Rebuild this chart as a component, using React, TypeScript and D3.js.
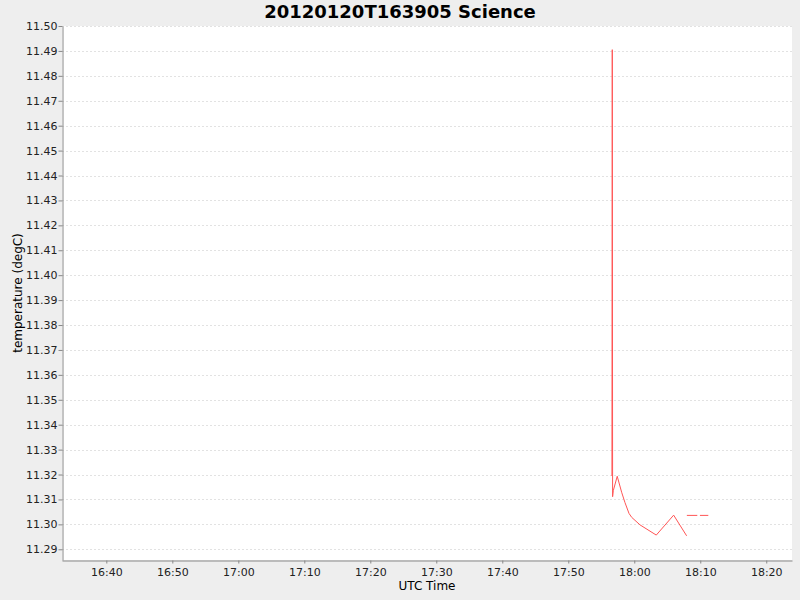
import { useEffect, useRef } from 'react'
import * as d3 from 'd3'

// Sample times (UTC, 2012-01-20) and temperatures; null marks a gap in the record
const times = [
  '17:56:37', '17:56:40', '17:56:43', '17:56:49', '17:57:25', '17:58:05', '17:58:35',
  '17:59:12', '17:59:37', '18:00:52', '18:03:20', '18:05:58', '18:07:56', '18:07:57',
  '18:07:58', '18:09:33', '18:09:45', '18:09:57', '18:11:13',
]
const temps: (number | null)[] = [
  11.3194, 11.4905, 11.3111, 11.3135, 11.3193, 11.3129, 11.3088,
  11.3044, 11.3028, 11.2998, 11.2957, 11.3037, 11.2954, null,
  11.3036, 11.3036, null, 11.3036, 11.3036,
]

const yTicks = [
  11.29, 11.30, 11.31, 11.32, 11.33, 11.34, 11.35, 11.36, 11.37, 11.38, 11.39,
  11.40, 11.41, 11.42, 11.43, 11.44, 11.45, 11.46, 11.47, 11.48, 11.49, 11.50,
]
const xTicks = ['16:40', '16:50', '17:00', '17:10', '17:20', '17:30', '17:40', '17:50', '18:00', '18:10', '18:20']
const xDomain = ['16:33:17', '18:23:54']
const yDomain = [11.2857, 11.5]

const parse = d3.utcParse('%Y-%m-%d %H:%M:%S')
const toDate = (s: string) => parse(`2012-01-20 ${s.length === 5 ? s + ':00' : s}`)!

export default function App() {
  const svgRef = useRef<SVGSVGElement>(null)

  useEffect(() => {
    if (!svgRef.current) return
    const svg = d3.select(svgRef.current)
    svg.selectAll('*').remove()

    const W = 800
    const H = 600
    const margin = { top: 26, right: 8, bottom: 40, left: 62 }
    const width = W - margin.left - margin.right
    const height = H - margin.top - margin.bottom
    const font = '"DejaVu Sans", sans-serif'

    svg.attr('width', W).attr('height', H)
    svg.append('rect').attr('width', W).attr('height', H).attr('fill', '#eeeeee')

    // Title
    svg.append('text')
      .attr('x', W / 2)
      .attr('y', 18)
      .attr('text-anchor', 'middle')
      .style('font-family', font)
      .style('font-size', '18px')
      .style('font-weight', 'bold')
      .style('fill', '#000')
      .text('20120120T163905 Science')

    const g = svg.append('g').attr('transform', `translate(${margin.left},${margin.top})`)
    g.append('rect').attr('width', width).attr('height', height).attr('fill', '#ffffff')

    const xScale = d3.scaleUtc()
      .domain([toDate(xDomain[0]), toDate(xDomain[1])])
      .range([0, width])

    const yScale = d3.scaleLinear()
      .domain(yDomain)
      .range([height, 0])

    // Horizontal grid lines
    g.selectAll('.grid-line')
      .data(yTicks)
      .enter().append('line')
      .attr('class', 'grid-line')
      .attr('x1', 0)
      .attr('x2', width)
      .attr('y1', d => Math.round(yScale(d)) + 0.5)
      .attr('y2', d => Math.round(yScale(d)) + 0.5)
      .attr('stroke', '#e2e2e2')
      .attr('stroke-width', 1)
      .attr('stroke-dasharray', '2,2')

    // Y axis
    const yAxis = g.append('g')
      .attr('transform', 'translate(0.5,0)')
      .call(d3.axisLeft(yScale).tickValues(yTicks).tickFormat(d3.format('.2f')).tickSizeInner(4).tickSizeOuter(0))
    yAxis.select('.domain').attr('stroke', '#888888')
    yAxis.selectAll('.tick line').attr('stroke', '#888888')
    yAxis.selectAll('.tick text')
      .attr('x', -5)
      .style('font-family', font)
      .style('font-size', '11px')
      .style('fill', '#222')

    // X axis
    const xAxis = g.append('g')
      .attr('transform', `translate(0,${height + 0.5})`)
      .call(d3.axisBottom(xScale).tickValues(xTicks.map(toDate)).tickFormat(d3.utcFormat('%H:%M') as any).tickSizeInner(3).tickSizeOuter(0))
    xAxis.select('.domain').attr('stroke', '#888888')
    xAxis.selectAll('.tick line').attr('stroke', '#888888')
    xAxis.selectAll('.tick text')
      .attr('y', 8)
      .style('font-family', font)
      .style('font-size', '11px')
      .style('fill', '#222')

    // Axis labels
    svg.append('text')
      .attr('transform', `translate(22,${margin.top + height / 2}) rotate(-90)`)
      .attr('text-anchor', 'middle')
      .style('font-family', font)
      .style('font-size', '12px')
      .style('fill', '#000')
      .text('temperature (degC)')

    svg.append('text')
      .attr('x', margin.left + width / 2)
      .attr('y', 590)
      .attr('text-anchor', 'middle')
      .style('font-family', font)
      .style('font-size', '12px')
      .style('fill', '#000')
      .text('UTC Time')

    // Series line
    const points = times.map((t, i) => ({ date: toDate(t), value: temps[i] }))
    const line = d3.line<{ date: Date; value: number | null }>()
      .defined(d => d.value !== null)
      .x(d => xScale(d.date))
      .y(d => yScale(d.value as number))

    g.append('path')
      .datum(points)
      .attr('d', line)
      .attr('fill', 'none')
      .attr('stroke', '#ff5555')
      .attr('stroke-width', 1)
  }, [])

  return (
    <svg ref={svgRef} style={{ position: 'fixed', left: 0, top: 0, display: 'block' }}></svg>
  )
}
